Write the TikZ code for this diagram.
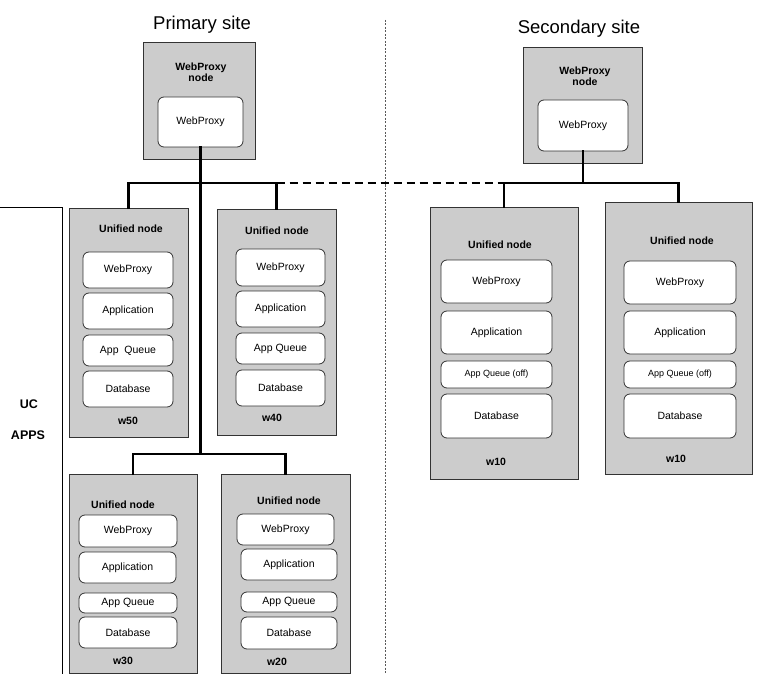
\documentclass[tikz,border=0pt]{standalone}
\usepackage{fontspec}
\setmainfont{Liberation Sans}
\definecolor{boxgray}{HTML}{CCCCCC}
\definecolor{edge}{HTML}{333333}
\newcommand{\bx}[7]{\node[#1, minimum width={#5-#3}, minimum height={#6-#4}] (#2) at ({(#3+#5)/2},{(#4+#6)/2}) {#7};}
\begin{document}
\begin{tikzpicture}[x=1pt,y=-1pt,
  outer/.style={draw=edge, line width=0.8pt, fill=boxgray, inner sep=0pt, outer sep=0pt},
  inbox/.style={draw=edge, line width=0.8pt, fill=white, rounded corners=6pt, inner sep=0pt, outer sep=0pt, font=\fontsize{10.5}{12}\selectfont},
  smallbox/.style={inbox, font=\fontsize{9}{11}\selectfont},
  lbl/.style={font=\fontsize{10.5}{12}\selectfont\bfseries, inner sep=0pt, align=center},
  biglbl/.style={font=\fontsize{12.5}{14}\selectfont\bfseries, inner sep=0pt},
  title/.style={font=\fontsize{18.5}{22}\selectfont, inner sep=0pt},
  conn/.style={line width=2.6pt, line cap=rect},
  dashline/.style={line width=1.5pt, dash pattern=on 8pt off 5pt},
  sepline/.style={line width=0.8pt, gray!70!black, dash pattern=on 2pt off 1.5pt},
  bracket/.style={line width=0.9pt}]
\useasboundingbox (0,0) rectangle (766,674);

% titles
\node[title] (t1) at (202,25) {Primary site};
\node[title] (t2) at (579,29) {Secondary site};

% separator
\coordinate (septop) at (385,20);
\coordinate (sepbot) at (385,674);
\draw[sepline] (septop) -- (sepbot);

% UC APPS bracket
\coordinate (b1) at (0,207);
\coordinate (b2) at (62,207);
\coordinate (b3) at (62,674);
\draw[bracket] (b1) -- (b2) -- (b3);
\node[biglbl] (uc) at (29,404) {UC};
\node[biglbl] (apps) at (28,435) {APPS};

% Primary WebProxy node
\bx{outer}{pwp}{143}{42}{255}{159}{}
\node[lbl] (pwpl) at (201,72.5) {WebProxy\\[-1pt]node};
\bx{inbox}{pwpin}{158}{97}{243}{147}{WebProxy}

% Secondary WebProxy node
\bx{outer}{swp}{523}{47}{642}{163}{}
\node[lbl] (swpl) at (585,76) {WebProxy\\[-1pt]node};
\bx{inbox}{swpin}{538}{100}{628}{151}{WebProxy}

% w50
\bx{outer}{w50}{69}{208}{188}{437}{}
\node[lbl] (w50t) at (131,229) {Unified node};
\bx{inbox}{w50a}{83}{252}{173}{288}{WebProxy}
\bx{inbox}{w50b}{83}{293}{173}{329}{Application}
\bx{inbox}{w50c}{83}{335}{173}{366}{App\ \ Queue}
\bx{inbox}{w50d}{83}{371}{173}{407}{Database}
\node[lbl] (w50l) at (128,421) {w50};

% w40
\bx{outer}{w40}{217}{209}{336}{435}{}
\node[lbl] (w40t) at (277,231) {Unified node};
\bx{inbox}{w40a}{236}{249}{325}{286}{WebProxy}
\bx{inbox}{w40b}{236}{291}{325}{327}{Application}
\bx{inbox}{w40c}{236}{333}{325}{364}{App Queue}
\bx{inbox}{w40d}{236}{370}{325}{406}{Database}
\node[lbl] (w40l) at (272,418) {w40};

% w30
\bx{outer}{w30}{69}{474}{197}{673}{}
\node[lbl] (w30t) at (123,505) {Unified node};
\bx{inbox}{w30a}{79}{515}{177}{547}{WebProxy}
\bx{inbox}{w30b}{79}{552}{176}{583}{Application}
\bx{inbox}{w30c}{79}{593}{177}{613}{App Queue}
\bx{inbox}{w30d}{79}{617}{177}{648}{Database}
\node[lbl] (w30l) at (123,661) {w30};

% w20
\bx{outer}{w20}{221}{474}{350}{673}{}
\node[lbl] (w20t) at (289,501) {Unified node};
\bx{inbox}{w20a}{237}{514}{334}{545}{WebProxy}
\bx{inbox}{w20b}{241}{549}{337}{580}{Application}
\bx{inbox}{w20c}{241}{592}{337}{612}{App Queue}
\bx{inbox}{w20d}{241}{617}{337}{649}{Database}
\node[lbl] (w20l) at (277,662) {w20};

% secondary w10 left
\bx{outer}{s1}{430}{207}{578}{479}{}
\node[lbl] (s1t) at (500,245) {Unified node};
\bx{inbox}{s1a}{441}{260}{552}{303}{WebProxy}
\bx{inbox}{s1b}{441}{311}{552}{354}{Application}
\bx{smallbox}{s1c}{441}{361}{552}{388}{App Queue (off)}
\bx{inbox}{s1d}{441}{394}{552}{438}{Database}
\node[lbl] (s1l) at (496,462) {w10};

% secondary w10 right
\bx{outer}{s2}{605}{202}{752}{474}{}
\node[lbl] (s2t) at (682,241) {Unified node};
\bx{inbox}{s2a}{624}{261}{736}{304}{WebProxy}
\bx{inbox}{s2b}{624}{311}{736}{354}{Application}
\bx{smallbox}{s2c}{624}{361}{736}{388}{App Queue (off)}
\bx{inbox}{s2d}{624}{394}{736}{438}{Database}
\node[lbl] (s2l) at (676,459) {w10};

% connectors
\coordinate (pj) at (200,183);
\coordinate (pj2) at (200,454);
\coordinate (sj) at (582,183);
\draw[conn] (pwpin.south) -- (pwpin.south |- pj2);
\draw[conn] (w50.north) -- (w50.north |- pj) -- (w40.north |- pj) -- (w40.north);
\draw[conn] (w30.north) -- (w30.north |- pj2) -- (w20.north |- pj2) -- (w20.north);
\draw[conn] (swpin.south) -- (swpin.south |- sj);
\draw[conn] (s1.north) -- (s1.north |- sj) -- (s2.north |- sj) -- (s2.north);
\draw[dashline] (w40.north |- pj) -- (s1.north |- sj);
\end{tikzpicture}
\end{document}
